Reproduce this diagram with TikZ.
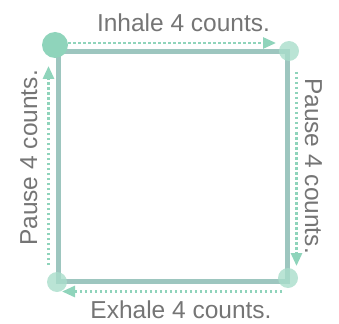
\documentclass[tikz,border=0pt]{standalone}
\usepackage{fontspec}
\setmainfont{Liberation Sans}
\usetikzlibrary{arrows.meta}
\definecolor{boxline}{HTML}{9DC6BF}
\definecolor{mint}{HTML}{8FD4BB}
\definecolor{softmint}{HTML}{A9DDCB}
\definecolor{labelgray}{HTML}{757575}
\begin{document}
\begin{tikzpicture}[x=1pt,y=-1pt,
	box_line/.style={draw=boxline,line width=5pt},
	start_dot/.style={circle,fill=mint,minimum size=26pt,inner sep=0pt},
	corner_dot/.style={circle,fill=softmint,fill opacity=0.8,minimum size=20pt,inner sep=0pt},
	flow_arrow/.style={draw=mint,line width=2.8pt,dash pattern=on 2.5pt off 2.5pt,-{Triangle[length=13pt,width=11pt,fill=mint]}},
	count_label/.style={text=labelgray,font=\fontsize{24.5}{30}\selectfont,inner sep=0pt,anchor=base}]
		
		\useasboundingbox (0,0) rectangle (339,323);
		
		\coordinate (c1) at (58.5,51.5);
		\coordinate (c2) at (287.5,51.5);
		\coordinate (c3) at (287.5,281);
		\coordinate (c4) at (58.5,281);
		
		\draw[box_line] (c1) -- (c2) -- (c3) -- (c4) -- cycle;
		
		\node[start_dot] (tl) at (55,45) {};
		\node[corner_dot] (tr) at (289,51) {};
		\node[corner_dot] (br) at (288,278) {};
		\node[corner_dot] (bl) at (57,282) {};
		
		\coordinate (top_a) at (68,43);
		\coordinate (top_b) at (276,43);
		\coordinate (right_a) at (296.5,72);
		\coordinate (right_b) at (296.5,266);
		\coordinate (bottom_a) at (282,291.5);
		\coordinate (bottom_b) at (62,291.5);
		\coordinate (left_a) at (48.5,265);
		\coordinate (left_b) at (48.5,66);
		
		\draw[flow_arrow] (top_a) -- (top_b);
		\draw[flow_arrow] (right_a) -- (right_b);
		\draw[flow_arrow] (bottom_a) -- (bottom_b);
		\draw[flow_arrow] (left_a) -- (left_b);
		
		\node[count_label] (inhale) at (183.5,32) {Inhale 4 counts.};
		\node[count_label] (exhale) at (181,318.5) {Exhale 4 counts.};
		\node[count_label,rotate=90] (pause_l) at (37,158) {Pause 4 counts.};
		\node[count_label,rotate=-90] (pause_r) at (305,166) {Pause 4 counts.};
		\end{tikzpicture}
\end{document}
